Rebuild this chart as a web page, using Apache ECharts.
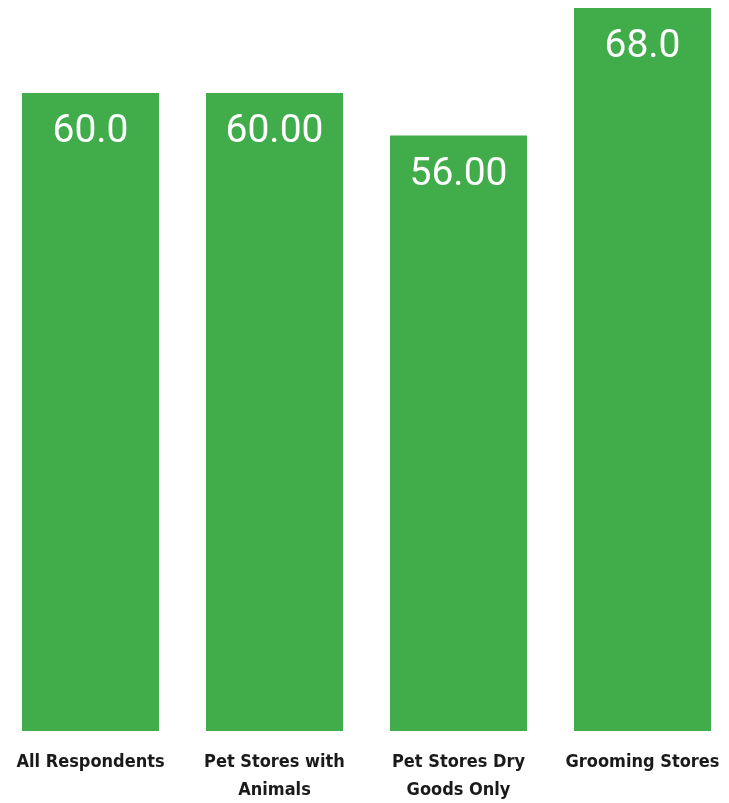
<!DOCTYPE html>
<html>
<head>
<meta charset="utf-8">
<script src="https://cdn.jsdelivr.net/npm/echarts@6/dist/echarts.min.js"></script>
<style>
  html, body { margin: 0; padding: 0; background: #fff; }
  #chart { width: 729px; height: 803px; }
</style>
</head>
<body>
<div id="chart"></div>
<script>
// Survey segments and their values
const categories = ['All Respondents', 'Pet Stores with\nAnimals', 'Pet Stores Dry\nGoods Only', 'Grooming Stores'];
const values = [60, 60, 56, 68];
// Value labels as printed on each bar
const valueLabels = ['60.0', '60.00', '56.00', '68.0'];

const chart = echarts.init(document.getElementById('chart'));
chart.setOption({
  animation: false,
  grid: { left: -1.5, right: -5.5, top: 8, bottom: 72, outerBoundsMode: 'none', containLabel: false },
  xAxis: {
    type: 'category',
    data: categories,
    axisLine: { show: false },
    axisTick: { show: false },
    axisLabel: {
      interval: 0,
      margin: 17,
      color: '#1a1a1a',
      fontFamily: '"DejaVu Sans Condensed", "DejaVu Sans", sans-serif',
      fontWeight: 'bold',
      fontSize: 18,
      lineHeight: 28,
      verticalAlign: 'top'
    }
  },
  yAxis: {
    type: 'value',
    min: 0,
    max: 68,
    show: false
  },
  series: [{
    type: 'bar',
    data: values,
    barWidth: 137,
    itemStyle: { color: '#41AD4A' },
    label: {
      show: true,
      position: 'insideTop',
      distance: 20,
      color: '#ffffff',
      fontFamily: 'Roboto, sans-serif',
      fontSize: 39,
      formatter: p => valueLabels[p.dataIndex]
    }
  }]
});
</script>
</body>
</html>
